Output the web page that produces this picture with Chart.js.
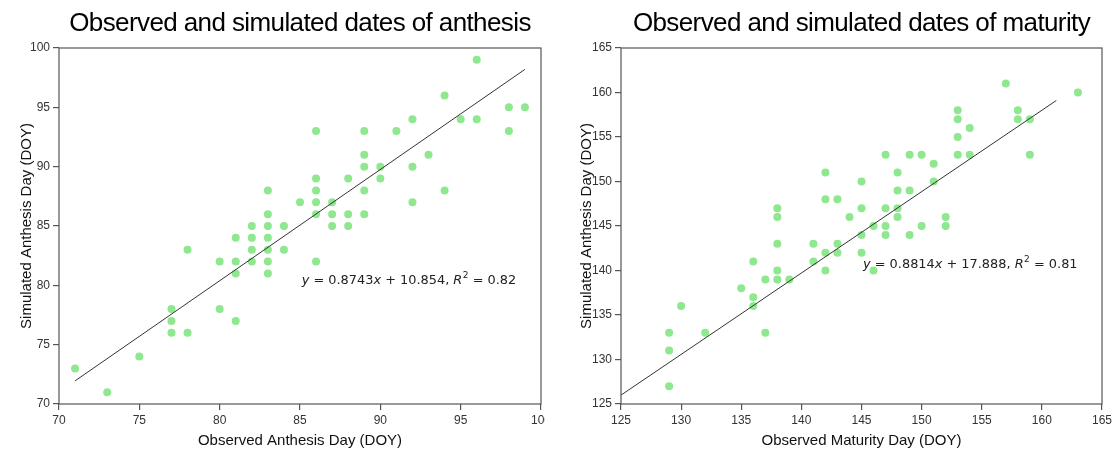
<!DOCTYPE html>
<html><head><meta charset="utf-8">
<script src="https://cdn.jsdelivr.net/npm/chart.js@4"></script>
<style>
html,body{margin:0;padding:0;background:#fff;width:1114px;height:451px;overflow:hidden}
#w1{position:absolute;left:0;top:0;width:545px;height:451px}
#w2{position:absolute;left:557px;top:0;width:557px;height:451px}
canvas{display:block}
</style></head><body>
<div id="w1"><canvas id="c1" width="545" height="451"></canvas></div>
<div id="w2"><canvas id="c2" width="557" height="451"></canvas></div>
<script>
// ---- data ----
const anthesisObserved  = [71,73,75,77,77,77,78,78,80,80,81,81,81,81,82,82,82,82,83,83,83,83,83,83,83,84,84,85,86,86,86,86,86,86,87,87,87,88,88,88,89,89,89,89,89,90,90,91,92,92,92,93,94,94,95,96,96,98,98,99];
const anthesisSimulated = [73,71,74,78,77,76,83,76,82,78,84,82,81,77,85,84,83,82,88,86,85,84,83,82,81,85,83,87,93,89,88,87,86,82,87,86,85,89,86,85,93,91,90,88,86,90,89,93,94,90,87,91,96,88,94,99,94,95,93,95];
const anthesisFitX = [71, 99];
const anthesisFitY = [71.95, 98.2];
const anthesisTicks = [70,75,80,85,90,95,100];
const anthesisEquation = [["y","i"],[" = 0.8743",""],["x","i"],[" + 10.854, ",""],["R","i"],["2","s"],[" = 0.82",""]];

const maturityObserved  = [129,129,129,130,132,135,136,136,136,137,137,138,138,138,138,138,139,141,141,142,142,142,142,143,143,143,144,145,145,145,145,146,146,147,147,147,147,148,148,148,148,149,149,149,150,150,151,151,152,152,153,153,153,153,154,154,157,158,158,159,159,163];
const maturitySimulated = [133,131,127,136,133,138,141,137,136,139,133,147,146,143,140,139,139,143,141,151,148,142,140,148,143,142,146,150,147,144,142,145,140,153,147,145,144,151,149,147,146,153,149,144,153,145,152,150,146,145,158,157,155,153,156,153,161,158,157,157,153,160];
const maturityFitX = [125, 161.2];
const maturityFitY = [126.0, 159.1];
const maturityXTicks = [125,130,135,140,145,150,155,160,165];
const maturityYTicks = [125,130,135,140,145,150,155,160,165];
const maturityEquation = [["y","i"],[" = 0.8814",""],["x","i"],[" + 17.888, ",""],["R","i"],["2","s"],[" = 0.81",""]];

const FONT = "'Liberation Sans', Arial, Helvetica, sans-serif";

function makeChart(id, cfg) {
  const textPlugin = {
    id: 'txt' + id,
    afterDraw(chart) {
      const ctx = chart.ctx, a = chart.chartArea;
      ctx.save();
      // frame
      ctx.strokeStyle = '#555'; ctx.lineWidth = 1.2;
      ctx.strokeRect(a.left, a.top, a.right - a.left, a.bottom - a.top);
      // title
      ctx.fillStyle = '#000';
      ctx.font = "26px " + FONT;
      try { ctx.letterSpacing = '-0.6px'; } catch(e) {}
      ctx.textAlign = 'center'; ctx.textBaseline = 'alphabetic';
      ctx.fillText(cfg.title, (a.left + a.right) / 2, 31);
      try { ctx.letterSpacing = '0px'; } catch(e) {}
      // equation
      let x = cfg.eqX; const y = cfg.eqY;
      ctx.textAlign = 'left'; ctx.textBaseline = 'middle'; ctx.fillStyle = '#222';
      const fs = 12.9;
      for (const [t, st] of cfg.eq) {
        if (st === 's') {
          ctx.font = (fs * 0.7).toFixed(1) + "px 'DejaVu Sans'";
          ctx.fillText(t, x + 0.5, y - 5);
          x += ctx.measureText(t).width + 0.5;
        } else {
          ctx.font = (st === 'i' ? 'italic ' : '') + fs + "px 'DejaVu Sans'";
          ctx.fillText(t, x, y);
          x += ctx.measureText(t).width;
        }
      }
      ctx.restore();
    }
  };
  const tickOpts = () => ({
    color: '#333', font: { family: FONT, size: 12 }, padding: 3,
    autoSkip: false, maxRotation: 0, callback: v => String(v)
  });
  return new Chart(document.getElementById(id), {
    data: {
      datasets: [
        { type: 'line', data: cfg.fitX.map((v, i) => ({ x: v, y: cfg.fitY[i] })),
          borderColor: '#333', borderWidth: 1, pointRadius: 0, fill: false, order: 0 },
        { type: 'scatter', data: cfg.obs.map((v, i) => ({ x: v, y: cfg.sim[i] })),
          backgroundColor: '#8fe88f', borderWidth: 0, pointRadius: 4, order: 1 }
      ]
    },
    options: {
      responsive: false, animation: false, devicePixelRatio: 1,
      layout: { padding: { left: 0, top: 48, right: cfg.padRight, bottom: 0 } },
      plugins: { legend: { display: false }, tooltip: { enabled: false } },
      scales: {
        x: {
          type: 'linear', min: cfg.xTicks[0], max: cfg.xTicks[cfg.xTicks.length - 1],
          afterBuildTicks: s => { s.ticks = cfg.xTicks.map(v => ({ value: v })); },
          afterFit: s => { s.height = 47; s.paddingLeft = 0; s.paddingRight = 0; },
          ticks: tickOpts(),
          grid: { display: true, drawOnChartArea: false, drawTicks: true, tickLength: 6, color: '#555', lineWidth: 1.2 },
          border: { display: false },
          title: { display: true, text: cfg.xTitle, color: '#111', font: { family: FONT, size: 15 }, padding: { top: 0, bottom: 1 } }
        },
        y: {
          type: 'linear', min: cfg.yTicks[0], max: cfg.yTicks[cfg.yTicks.length - 1],
          afterBuildTicks: s => { s.ticks = cfg.yTicks.map(v => ({ value: v })); },
          afterFit: s => { s.width = cfg.yWidth; s.paddingTop = 0; s.paddingBottom = 0; },
          ticks: tickOpts(),
          grid: { display: true, drawOnChartArea: false, drawTicks: true, tickLength: 6, color: '#555', lineWidth: 1.2 },
          border: { display: false },
          title: { display: true, text: cfg.yTitle, color: '#111', font: { family: FONT, size: 15 }, padding: { top: cfg.yTitlePad, bottom: 0 } }
        }
      }
    },
    plugins: [textPlugin]
  });
}

makeChart('c1', {
  obs: anthesisObserved, sim: anthesisSimulated, fitX: anthesisFitX, fitY: anthesisFitY,
  xTicks: anthesisTicks, yTicks: anthesisTicks, eq: anthesisEquation, eqX: 301.7, eqY: 280.7,
  title: 'Observed and simulated dates of anthesis', xTitle: 'Observed Anthesis Day (DOY)',
  yTitle: 'Simulated Anthesis Day (DOY)', yWidth: 59, yTitlePad: 18, padRight: 3
});
makeChart('c2', {
  obs: maturityObserved, sim: maturitySimulated, fitX: maturityFitX, fitY: maturityFitY,
  xTicks: maturityXTicks, yTicks: maturityYTicks, eq: maturityEquation, eqX: 306, eqY: 265,
  title: 'Observed and simulated dates of maturity', xTitle: 'Observed Maturity Day (DOY)',
  yTitle: 'Simulated Anthesis Day (DOY)', yWidth: 64, yTitlePad: 21, padRight: 12
});
</script>
</body></html>
